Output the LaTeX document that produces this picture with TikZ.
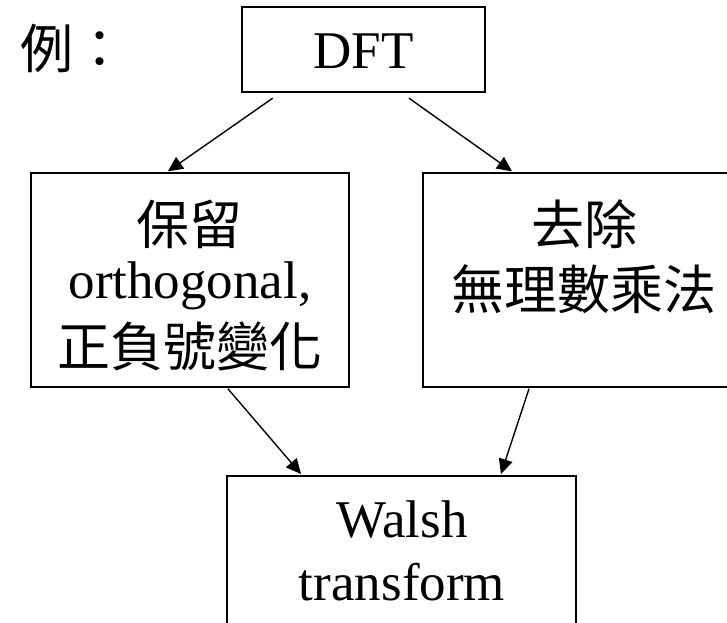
\documentclass[tikz,border=0pt]{standalone}
\usepackage{fontspec}
\setmainfont{Liberation Serif}
\newfontfamily\cjk{Noto Sans CJK TC}
\usetikzlibrary{arrows.meta}
\begin{document}
\begin{tikzpicture}[x=1pt,y=-1pt,
  box/.style={draw=black, line width=1.9pt, inner sep=0pt},
  txt/.style={anchor=base, inner sep=0pt, font=\fontsize{53}{60}\selectfont},
  arr/.style={line width=1.4pt, -{Triangle[length=15pt,width=14pt]}}]
\useasboundingbox (0,0) rectangle (727,622);
\clip (0,0) rectangle (727,622);
% boxes
\node[box, minimum width=243pt, minimum height=85.5pt] (dft) at (363.5,49.5) {};
\node[box, minimum width=318.3pt, minimum height=213.4pt] (L) at (189.85,280) {};
\node[box, minimum width=337pt, minimum height=213.4pt] (R) at (591.5,280) {};
\node[box, minimum width=348.7pt, minimum height=200pt] (W) at (401.65,576) {};
% texts
\node[txt, anchor=base west] (ex) at (20,68) {\cjk 例：};
\node[txt] (dftt) at (363.5,68) {DFT};
\node[txt] (L1) at (189,244) {\cjk 保留};
\node[txt] (L2) at (190,298) {orthogonal,};
\node[txt] (L3) at (190,366) {\cjk 正負號變化};
\node[txt] (R1) at (584,244) {\cjk 去除};
\node[txt] (R2) at (584,309) {\cjk 無理數乘法};
\node[txt] (W1) at (402,537) {Walsh};
\node[txt] (W2) at (402,600) {transform};
% connectors
\draw[arr] ([xshift=-90.8pt,yshift=-5pt]dft.south) -- ([xshift=-22pt,yshift=1pt]L.north);
\draw[arr] ([xshift=45.5pt,yshift=-5pt]dft.south) -- ([xshift=90pt,yshift=1pt]R.north west);
\draw[arr] ([xshift=38pt,yshift=-1pt]L.south) -- ([xshift=74.7pt,yshift=1pt]W.north west);
\draw[arr] ([xshift=107pt,yshift=-1pt]R.south west) -- ([xshift=-76pt,yshift=1pt]W.north east);
\end{tikzpicture}
\end{document}
